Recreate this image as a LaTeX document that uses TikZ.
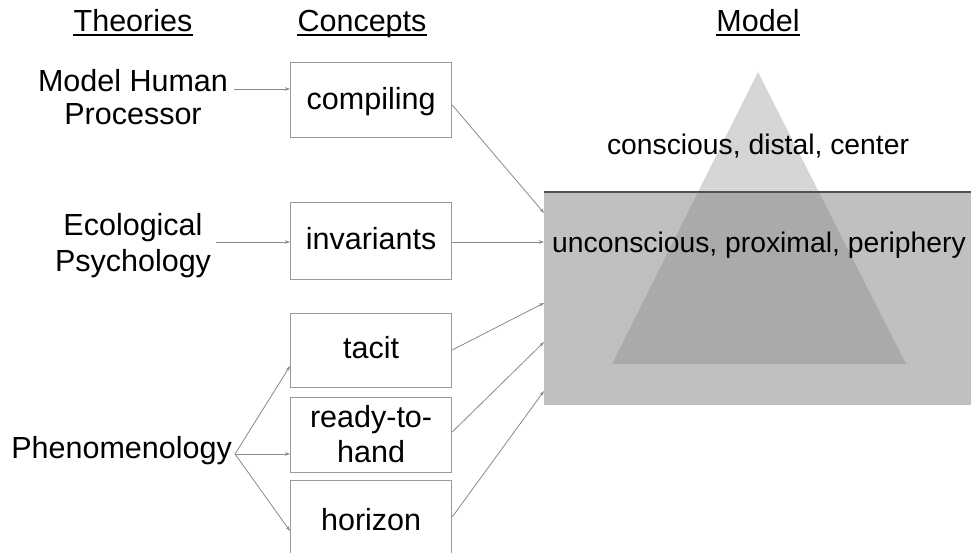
\documentclass[tikz,border=0pt]{standalone}
\usepackage{fontspec}
\setmainfont{Liberation Sans}
\usetikzlibrary{arrows.meta}
\definecolor{boxgray}{HTML}{9A9A9A}
\definecolor{arrowgray}{HTML}{8A8A8A}
\definecolor{seagray}{HTML}{C0C0C0}
\definecolor{tritop}{HTML}{D6D6D6}
\definecolor{trilow}{HTML}{AAAAAA}
\definecolor{waterline}{HTML}{505050}
\begin{document}
\begin{tikzpicture}[x=1pt,y=-1pt,
  every node/.style={font=\fontsize{30.5}{34}\selectfont, inner sep=0pt, text=black},
  modeltext/.style={anchor=base, font=\fontsize{28.3}{34}\selectfont},
  concept/.style={draw=boxgray, line width=1.2pt, minimum width=161pt, anchor=north west},
  lbl/.style={anchor=base},
  conn/.style={draw=arrowgray, line width=0.8pt, -{Stealth[length=5pt,width=3.5pt]}},
  head/.style={anchor=base},
  uline/.style={line width=1.1pt, draw=black}]
\useasboundingbox (0,0) rectangle (971,553);

% headers
\node[head] (hT) at (133,32) {Theories};
\node[head] (hC) at (362,32) {Concepts};
\node[head] (hM) at (758,32) {Model};
\draw[uline] ([yshift=-3pt]hT.base west) -- ([yshift=-3pt]hT.base east);
\draw[uline] ([yshift=-3pt]hC.base west) -- ([yshift=-3pt]hC.base east);
\draw[uline] ([yshift=-3pt]hM.base west) -- ([yshift=-3pt]hM.base east);

% model
\fill[tritop] (758,72) -- (612,364) -- (906,364) -- cycle;
\node[fill=seagray, minimum width=430pt, minimum height=213pt, anchor=north west] (sea) at (544,192) {};
\begin{scope}
  \clip (sea.north west) rectangle (sea.south east);
  \fill[trilow] (758,72) -- (612,364) -- (906,364) -- cycle;
\end{scope}
\draw[waterline, line width=2pt] (sea.north west) -- (sea.north east);
\node[modeltext] (consc) at (758,155) {conscious, distal, center};
\node[modeltext] (uncon) at (759,252) {unconscious, proximal, periphery};

% concepts
\node[concept, minimum height=75pt] (compiling) at (290,62) {};
\node[lbl] (compilingL) at (compiling.center |- 0,110) {compiling};
\node[concept, minimum height=77pt] (invariants) at (290,202) {};
\node[lbl] (invariantsL) at (invariants.center |- 0,250) {invariants};
\node[concept, minimum height=74pt] (tacit) at (290,313) {};
\node[lbl] (tacitL) at (tacit.center |- 0,358) {tacit};
\node[concept, minimum height=75pt] (ready) at (290,397) {};
\node[lbl] (readyL) at (ready.center |- 0,427) {\begin{tabular}[t]{@{}c@{}}ready-to-\\[1pt]hand\end{tabular}};
\node[concept, minimum height=80pt] (horizon) at (290,480) {};
\node[lbl] (horizonL) at (horizon.center |- 0,530) {horizon};

% theories
\node[anchor=base] (mhp) at (133,92) {\begin{tabular}[t]{@{}c@{}}Model Human\\[-1pt]Processor\end{tabular}};
\node[anchor=base] (eco) at (133,236) {\begin{tabular}[t]{@{}c@{}}Ecological\\[2pt]Psychology\end{tabular}};
\node[anchor=base east] (phen) at (232,458) {Phenomenology};

% theory -> concept
\draw[conn] (mhp.east |- 0,89) ++(6,0) -- (compiling.west |- 0,89);
\draw[conn] (eco.east |- 0,242) ++(5,0) -- (invariants.west |- 0,242);
\draw[conn] (phen.east |- 0,454) ++(3,0) -- (tacit.west |- 0,366);
\draw[conn] (phen.east |- 0,454) ++(3,0) -- (ready.west |- 0,454);
\draw[conn] (phen.east |- 0,454) ++(3,0) -- (horizon.west |- 0,531);

% concept -> model
\draw[conn] (compiling.east |- 0,105) -- (sea.west |- 0,213);
\draw[conn] (invariants.east |- 0,242) -- (sea.west |- 0,242);
\draw[conn] (tacit.east |- 0,350) -- (sea.west |- 0,303);
\draw[conn] (ready.east |- 0,432) -- (sea.west |- 0,342);
\draw[conn] (horizon.east |- 0,517) -- (sea.west |- 0,391);
\end{tikzpicture}
\end{document}
